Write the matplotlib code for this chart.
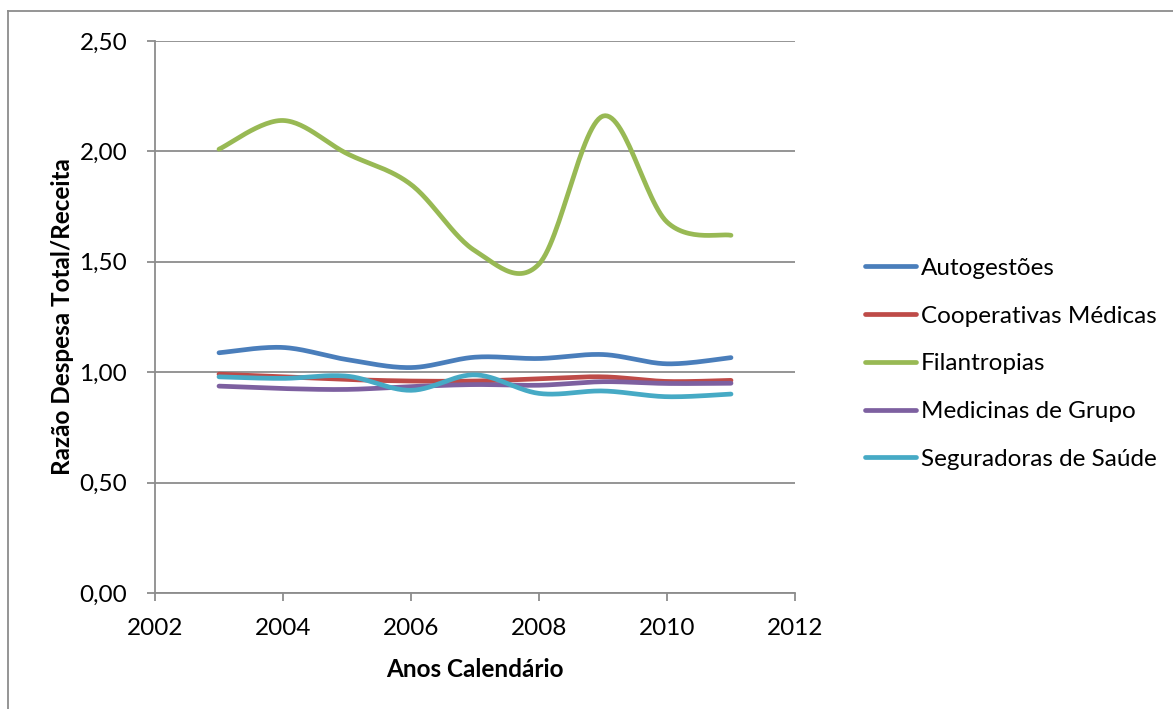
import numpy as np
import matplotlib.pyplot as plt
from matplotlib.lines import Line2D

years = [2003, 2004, 2005, 2006, 2007, 2008, 2009, 2010, 2011]
series_names = ["Autogestões", "Cooperativas Médicas", "Filantropias",
                "Medicinas de Grupo", "Seguradoras de Saúde"]
autogestoes = [1.088, 1.112, 1.057, 1.021, 1.068, 1.062, 1.080, 1.038, 1.066]
cooperativas = [0.991, 0.979, 0.967, 0.960, 0.960, 0.970, 0.979, 0.958, 0.963]
filantropias = [2.01, 2.14, 1.99, 1.85, 1.55, 1.49, 2.16, 1.68, 1.62]
medicinas = [0.937, 0.926, 0.922, 0.935, 0.944, 0.941, 0.957, 0.949, 0.950]
seguradoras = [0.979, 0.972, 0.982, 0.918, 0.988, 0.904, 0.915, 0.889, 0.901]
colors = ["#4A7EBB", "#BE4B48", "#98B954", "#7D60A0", "#46AAC5"]

plt.rcParams['font.family'] = ['Lato', 'DejaVu Sans']


def smooth(x, y, n=30):
    # Excel-like smoothed line: cubic Bezier through points, control = P +/- (Pnext - Pprev)/6
    x = np.asarray(x, float)
    y = np.asarray(y, float)
    px = np.concatenate([[x[0]], x, [x[-1]]])
    py = np.concatenate([[y[0]], y, [y[-1]]])
    t = np.linspace(0, 1, n)
    xs, ys = [], []
    for i in range(1, len(px) - 2):
        p0 = np.array([px[i], py[i]])
        p3 = np.array([px[i + 1], py[i + 1]])
        c1 = p0 + (np.array([px[i + 1], py[i + 1]]) - np.array([px[i - 1], py[i - 1]])) / 6
        c2 = p3 - (np.array([px[i + 2], py[i + 2]]) - np.array([px[i], py[i]])) / 6
        b = ((1 - t) ** 3)[:, None] * p0 + (3 * (1 - t) ** 2 * t)[:, None] * c1 \
            + (3 * (1 - t) * t ** 2)[:, None] * c2 + (t ** 3)[:, None] * p3
        xs.append(b[:, 0])
        ys.append(b[:, 1])
    return np.concatenate(xs), np.concatenate(ys)


fig = plt.figure(figsize=(11.73, 7.09), dpi=100)
ax = fig.add_axes([155 / 1173, 1 - 593 / 709, 640 / 1173, 552 / 709])

data = [autogestoes, cooperativas, filantropias, medicinas, seguradoras]
for vals, c in zip(data, colors):
    sx, sy = smooth(years, vals)
    ax.plot(sx, sy, color=c, lw=3.4, solid_capstyle='round')

ax.set_xlim(2002, 2012)
ax.set_ylim(0, 2.5)
ax.set_xticks(range(2002, 2013, 2))
ax.set_yticks(np.arange(0, 2.51, 0.5))
ax.set_yticklabels([f"{v:.2f}".replace('.', ',') for v in np.arange(0, 2.51, 0.5)])
ax.grid(axis='y', color='#8C8C8C', lw=1.3)
ax.set_axisbelow(True)
for s in ['top', 'right']:
    ax.spines[s].set_visible(False)
for s in ['left', 'bottom']:
    ax.spines[s].set_color('#8C8C8C')
    ax.spines[s].set_linewidth(1.3)
ax.tick_params(axis='both', direction='out', length=6, width=1.3, color='#8C8C8C',
               labelsize=17.5, labelcolor='black')
ax.tick_params(axis='x', pad=12)
ax.tick_params(axis='y', pad=14)

ax.set_xlabel("Anos Calendário", fontsize=17.5, fontweight='bold', labelpad=14)
ax.set_ylabel("Razão Despesa Total/Receita", fontsize=17.5, fontweight='bold', labelpad=4)

handles = [Line2D([0], [0], color=c, lw=3.4, solid_capstyle='round') for c in colors]
fig.legend(handles, series_names, loc='upper left', bbox_to_anchor=(843 / 1173, 1 - 236 / 709),
           frameon=False, fontsize=17.5, handlelength=2.1, handletextpad=0.2,
           labelspacing=1.1)

# chart area border
fig.add_artist(Line2D([8 / 1173, 1], [1 - 11 / 709, 1 - 11 / 709], color='#8C8C8C', lw=1.3))
fig.add_artist(Line2D([8 / 1173, 8 / 1173], [0, 1 - 11 / 709], color='#8C8C8C', lw=1.3))

fig.savefig("out.png", dpi=100)
